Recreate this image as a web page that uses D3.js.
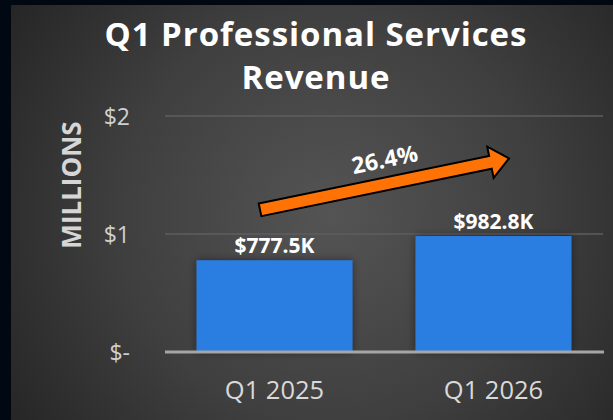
<!DOCTYPE html>
<html>
<head>
<meta charset="utf-8">
<script src="https://cdn.jsdelivr.net/npm/d3@7"></script>
<style>
  html, body { margin: 0; padding: 0; background: #010812; }
  svg { display: block; }
</style>
</head>
<body>
<svg id="chart" width="613" height="420"></svg>
<script>
// ---- data ----
const categories = ["Q1 2025", "Q1 2026"];
const revenueK = [777.5, 982.8];          // thousands of dollars
const yTicks = [0, 1, 2];                  // millions
const yTickLabels = ["$-", "$1", "$2"];
const titleLines = ["Q1 Professional Services", "Revenue"];
const axisTitle = "MILLIONS";

const svg = d3.select("#chart");
const W = 613, H = 420;
const font = "'Open Sans', 'Noto Sans', sans-serif";

// background
const defs = svg.append("defs");
const rg = defs.append("radialGradient").attr("id", "bg")
  .attr("gradientUnits", "userSpaceOnUse")
  .attr("cx", 330).attr("cy", 215).attr("r", 380);
rg.append("stop").attr("offset", "0%").attr("stop-color", "#545454");
rg.append("stop").attr("offset", "55%").attr("stop-color", "#3f3f3f");
rg.append("stop").attr("offset", "100%").attr("stop-color", "#262626");
const sh = defs.append("filter").attr("id", "shadow")
  .attr("x", "-20%").attr("y", "-20%").attr("width", "140%").attr("height", "140%");
sh.append("feDropShadow").attr("dx", 0).attr("dy", 0).attr("stdDeviation", 4)
  .attr("flood-color", "#000").attr("flood-opacity", 0.45);

svg.append("rect").attr("x", 0).attr("y", 0).attr("width", W).attr("height", H).attr("fill", "#010812");
svg.append("rect").attr("x", 11).attr("y", 5).attr("width", W - 11).attr("height", H - 5).attr("fill", "url(#bg)");

// scales
const x = d3.scaleBand().domain(categories).range([165, 603])
  .paddingInner(0.288).paddingOuter(0.144);
const y = d3.scaleLinear().domain([0, 2]).range([352, 116]);

// gridlines
svg.append("g").selectAll("line").data(yTicks.filter(d => d > 0)).join("line")
  .attr("x1", 165).attr("x2", 603)
  .attr("y1", d => y(d)).attr("y2", d => y(d))
  .attr("stroke", "#5e5e5e").attr("stroke-width", 1.5);

// y tick labels
svg.append("g").selectAll("text").data(yTicks).join("text")
  .attr("x", 130).attr("y", d => y(d))
  .attr("text-anchor", "end").attr("dominant-baseline", "central")
  .attr("font-family", font).attr("font-size", 23)
  .attr("fill", "#cfcfcf")
  .text((d, i) => yTickLabels[i]);

// axis title
svg.append("text")
  .attr("transform", `translate(71,${(y(1) + y(2)) / 2 + 10}) rotate(-90)`)
  .attr("text-anchor", "middle").attr("dominant-baseline", "central")
  .attr("font-family", font).attr("font-weight", 700).attr("font-size", 26)
  .attr("fill", "#d6d6d6").text(axisTitle);

// bars
svg.append("g").selectAll("rect").data(categories).join("rect")
  .attr("x", d => x(d)).attr("width", x.bandwidth())
  .attr("y", (d, i) => y(revenueK[i] / 1000))
  .attr("height", (d, i) => y(0) - y(revenueK[i] / 1000))
  .attr("fill", "#2a7de1").attr("filter", "url(#shadow)");

// baseline
svg.append("line").attr("x1", 165).attr("x2", 604)
  .attr("y1", y(0)).attr("y2", y(0))
  .attr("stroke", "#a6a6a6").attr("stroke-width", 3);

// value labels
svg.append("g").selectAll("text").data(categories).join("text")
  .attr("x", d => x(d) + x.bandwidth() / 2)
  .attr("y", (d, i) => y(revenueK[i] / 1000) - 7)
  .attr("text-anchor", "middle")
  .attr("font-family", font).attr("font-weight", 700).attr("font-size", 21)
  .attr("fill", "#ffffff")
  .text((d, i) => "$" + revenueK[i].toFixed(1) + "K");

// category labels
svg.append("g").selectAll("text").data(categories).join("text")
  .attr("x", d => x(d) + x.bandwidth() / 2).attr("y", 399)
  .attr("text-anchor", "middle")
  .attr("font-family", font).attr("font-size", 25.5)
  .attr("fill", "#d9d9d9").text(d => d);

// title
svg.append("g").selectAll("text").data(titleLines).join("text")
  .attr("x", 316).attr("y", (d, i) => 46 + i * 43)
  .attr("text-anchor", "middle")
  .attr("font-family", font).attr("font-weight", 700).attr("font-size", 33)
  .attr("letter-spacing", 0.95)
  .attr("fill", "#ffffff").text(d => d);

// growth arrow
const growth = (revenueK[1] / revenueK[0] - 1) * 100;
const tail = [x(categories[0]) + 63.5, y(1.205)];
const tip = [x(categories[1]) + 93.5, y(1.64)];
const dx = tip[0] - tail[0], dy = tip[1] - tail[1];
const len = Math.hypot(dx, dy);
const ang = Math.atan2(dy, dx) * 180 / Math.PI;
const hs = 6.5, hw = 16, hl = 19;
const arrowPts = [[0, -hs], [len - hl, -hs], [len - hl, -hw], [len, 0], [len - hl, hw], [len - hl, hs], [0, hs]];
const ag = svg.append("g").attr("transform", `translate(${tail[0]},${tail[1]}) rotate(${ang})`);
ag.append("path").attr("d", d3.line()(arrowPts) + "Z")
  .attr("fill", "#ff7306").attr("stroke", "#000").attr("stroke-width", 2)
  .attr("stroke-linejoin", "miter");
ag.append("text").attr("x", len * 0.52).attr("y", -16)
  .attr("text-anchor", "middle")
  .attr("font-family", font).attr("font-weight", 700).attr("font-size", 23)
  .attr("fill", "#ffffff").text(growth.toFixed(1) + "%");
</script>
</body>
</html>
